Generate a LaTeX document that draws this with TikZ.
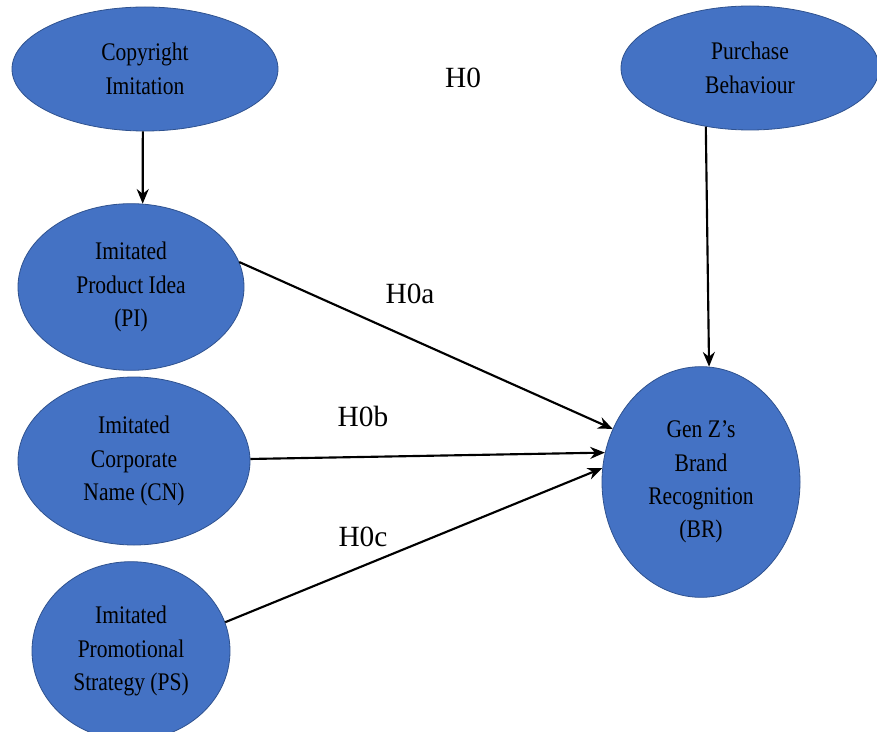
\documentclass[tikz,border=0pt]{standalone}
\usepackage{fontspec}
\setmainfont{Liberation Serif}
\newfontfamily\narrowserif{Liberation Serif}[FakeStretch=0.85]
\usepackage{tikz}
\usetikzlibrary{arrows.meta}
\usetikzlibrary{shapes.geometric}
\definecolor{ovalblue}{HTML}{4472C4}
\definecolor{ovalrim}{HTML}{2F528F}

\begin{document}
\begin{tikzpicture}[>={Stealth[length=11pt,width=9pt]},auto,x=0.75pt,y=-0.75pt,
      main node/.style={ellipse,fill=ovalblue,draw=ovalrim,line width=0.6pt,inner sep=0pt,
        align=center,font=\narrowserif\fontsize{19}{25}\selectfont},
      hyp/.style={font=\fontsize{22}{26}\selectfont}]
    \useasboundingbox (0,0) rectangle (877,731);
    \clip (0,0) rectangle (877,731);
    \node[main node,minimum width=199.5pt,minimum height=93pt] (CI) at (145,69) {Copyright\\Imitation};
    \node[main node,minimum width=193.5pt,minimum height=93pt] (PB) at (750,68) {Purchase\\Behaviour};
    \node[main node,minimum width=169.5pt,minimum height=125pt] (PI) at (131,287) {Imitated\\Product Idea\\(PI)};
    \node[main node,minimum width=174pt,minimum height=126pt] (CN) at (134,461) {Imitated\\Corporate\\Name (CN)};
    \node[main node,minimum width=148.5pt,minimum height=134pt] (PS) at (131,651) {Imitated\\Promotional\\Strategy (PS)};
    \node[main node,minimum width=148.5pt,minimum height=173pt] (BR) at (701,482) {Gen Z’s\\Brand\\Recognition\\(BR)};
    % hypothesis labels
    \node[hyp] (h0) at (463,78) {H0};
    \node[hyp] (h0a) at (410,294) {H0a};
    \node[hyp] (h0b) at (363,416) {H0b};
    \node[hyp] (h0c) at (363,537) {H0c};
         \path[line width=1.6pt]
         (CI.268) edge [->] (PI.82)
         (PB.233) edge [->] (BR.86)
         (PI.13) edge [->] (BR.149)
         (CN.1) edge [->] (BR.163)
         (PS.17) edge [->] (BR.172);
  \end{tikzpicture}
\end{document}
